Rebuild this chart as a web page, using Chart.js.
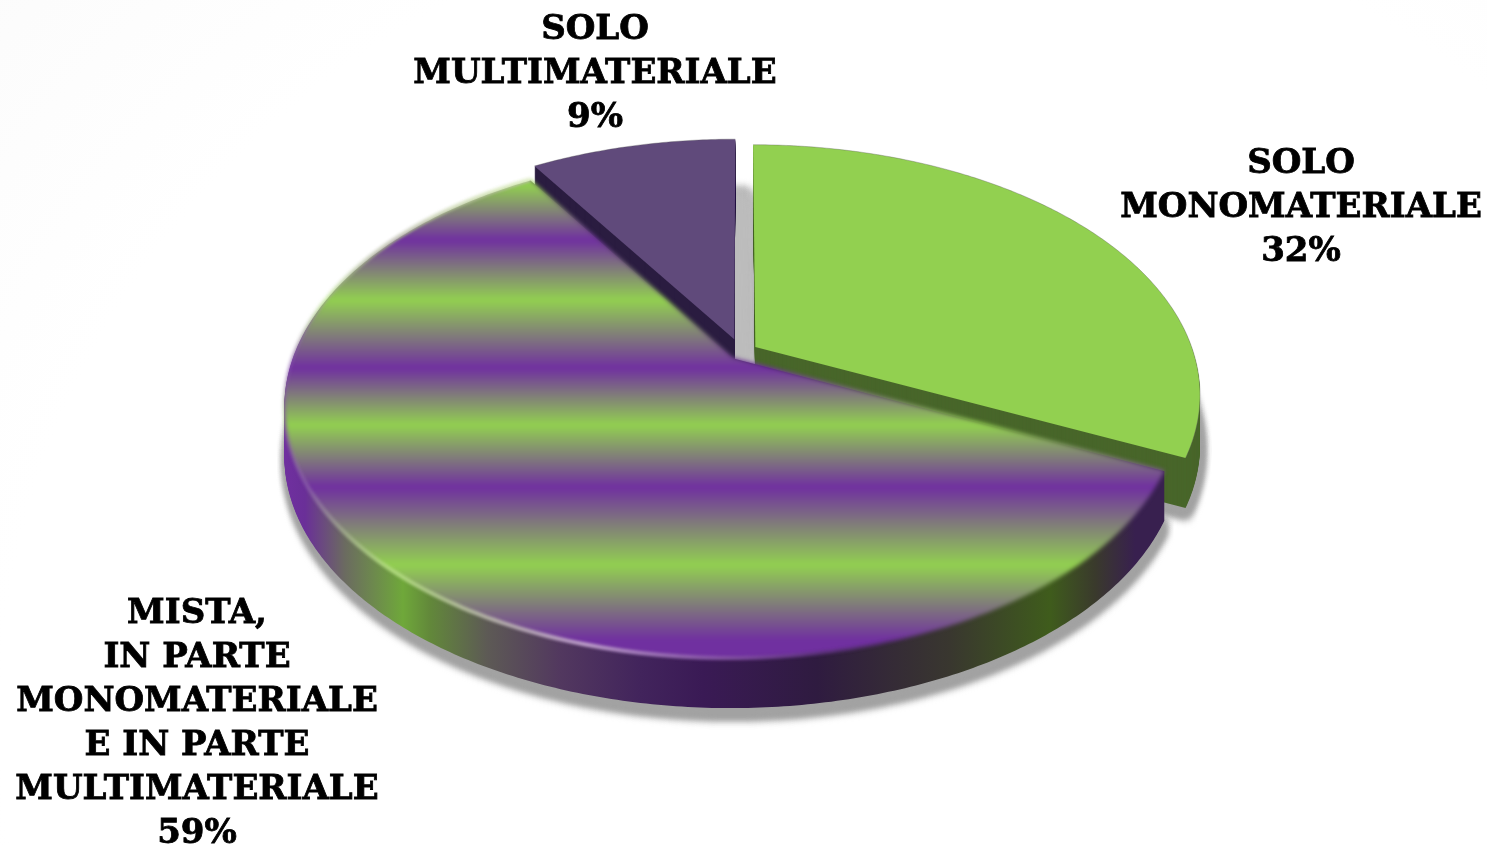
<!DOCTYPE html>
<html>
<head>
<meta charset="utf-8">
<title>Monomateriale / multimateriale</title>
<script src="https://cdn.jsdelivr.net/npm/chart.js@4.4.0/dist/chart.umd.js"></script>
<style>
    html, body { margin: 0; padding: 0; background: #fff; overflow: hidden; }
    #wrap {
        position: relative; width: 1487px; height: 845px;
        background: radial-gradient(ellipse 1250px 1150px at 900px 720px, #fff 72%, #fbfbfb 100%);
    }
    canvas { display: block; }
</style>
</head>
<body>
<div id="wrap"><canvas id="pie" width="1487" height="845"></canvas></div>
<script>
// Data
const categories = [
    ['SOLO', 'MONOMATERIALE'],
    ['MISTA,', 'IN PARTE', 'MONOMATERIALE', 'E IN PARTE', 'MULTIMATERIALE'],
    ['SOLO', 'MULTIMATERIALE']
];
const sliceValues = [32, 59, 9];

// Colours
const topColors = ['#92d050', null, '#604a7b'];
const wallColors = ['#48662a', null, '#2a1c40'];
const stripeGreen = '#92d050';
const stripePurple = '#7030a0';
const stripeRows = [185, 240, 300, 368, 425, 487, 565, 640];
const sideStops = [
    [283, '#7030a0'], [305, '#6a2f98'], [345, '#6b6b60'], [403, '#6fa83a'], [430, '#62883a'],
    [487, '#5d5a55'], [560, '#52385f'], [640, '#42245c'], [703, '#3a1a55'], [817, '#2f1b40'],
    [950, '#39372f'], [1050, '#3f5c1c'], [1095, '#3a3a2c'], [1135, '#38204f'], [1155, '#38204f']
];

// Where the tilted disc lands on the page
const CX = 741, CY = 352, AX = 438, BY = 242, TILT = 0.188, DEPTH = 50;
const labelAnchors = [[1301, 164], [197, 614], [595, 30]];
const drawOrder = [2, 0, 1];

function project(u, v) {
    const w = 1 - TILT * v;
    return [CX + AX * u / w, CY + BY * v / w];
}

function slicePath(ctx, el, dy) {
    const R = el.outerRadius;
    const mid = (el.startAngle + el.endAngle) / 2;
    const ox = Math.cos(mid) * el.options.offset / R;
    const oy = Math.sin(mid) * el.options.offset / R;
    ctx.beginPath();
    let p = project(ox, oy);
    ctx.moveTo(p[0], p[1] + dy);
    const steps = Math.ceil((el.endAngle - el.startAngle) * 90);
    for (let i = 0; i <= steps; i++) {
        const a = el.startAngle + (el.endAngle - el.startAngle) * i / steps;
        p = project(ox + Math.cos(a), oy + Math.sin(a));
        ctx.lineTo(p[0], p[1] + dy);
    }
    ctx.closePath();
}

function rimPath(ctx, el, from, to) {
    const R = el.outerRadius;
    const mid = (el.startAngle + el.endAngle) / 2;
    const ox = Math.cos(mid) * el.options.offset / R;
    const oy = Math.sin(mid) * el.options.offset / R;
    ctx.beginPath();
    for (let i = 0; i <= 200; i++) {
        const a = from + (to - from) * i / 200;
        const p = project(ox + Math.cos(a), oy + Math.sin(a));
        if (i === 0) ctx.moveTo(p[0], p[1]); else ctx.lineTo(p[0], p[1]);
    }
}

function stripes(ctx) {
    const first = stripeRows[0], last = 665;
    const g = ctx.createLinearGradient(0, first, 0, last);
    stripeRows.forEach((y, i) => {
        g.addColorStop((y - first) / (last - first), i % 2 ? stripePurple : stripeGreen);
    });
    g.addColorStop(1, stripePurple);
    return g;
}

function sideGradient(ctx) {
    const g = ctx.createLinearGradient(283, 0, 1155, 0);
    sideStops.forEach(s => g.addColorStop((s[0] - 283) / (1155 - 283), s[1]));
    return g;
}

// Draws the slices the library has laid out, tilted and extruded
const tiltedPie = {
    id: 'tiltedPie',
    beforeDatasetDraw(chart) {
        const ctx = chart.ctx;
        const arcs = chart.getDatasetMeta(0).data;
        ctx.save();

        // soft shadow on the page; the small slice throws its shadow into the gap
        ctx.filter = 'blur(4px)';
        arcs.forEach((el, i) => {
            ctx.fillStyle = i === 2 ? '#bcbcbc' : '#a2a2a2';
            for (let d = DEPTH - 2; d <= DEPTH + 12; d += 2) {
                ctx.save();
                ctx.translate(i === 2 ? 14 : 2, 0);
                slicePath(ctx, el, d);
                ctx.fill();
                ctx.restore();
            }
        });
        ctx.filter = 'none';

        drawOrder.forEach(i => {
            const el = arcs[i];
            ctx.fillStyle = wallColors[i] || sideGradient(ctx);
            for (let d = DEPTH; d > 0; d--) {
                slicePath(ctx, el, d);
                ctx.fill();
            }
            ctx.fillStyle = el.options.backgroundColor;
            if (i === 1) ctx.filter = 'blur(2px)';
            slicePath(ctx, el, 0);
            ctx.fill();
            ctx.filter = 'none';
            if (i !== 1) {
                ctx.strokeStyle = 'rgba(90,90,90,0.35)';
                ctx.lineWidth = 1;
                rimPath(ctx, el, el.startAngle, el.endAngle);
                ctx.stroke();
            }
        });

        // bevel highlight round the front of the big slice
        const big = arcs[1];
        const glow = ctx.createLinearGradient(283, 0, 1150, 0);
        glow.addColorStop(0, 'rgba(255,255,255,0.05)');
        glow.addColorStop(0.12, 'rgba(220,255,170,0.5)');
        glow.addColorStop(0.35, 'rgba(255,235,255,0.6)');
        glow.addColorStop(0.55, 'rgba(200,140,230,0.3)');
        glow.addColorStop(0.72, 'rgba(60,40,80,0.0)');
        glow.addColorStop(1, 'rgba(40,20,60,0.0)');
        ctx.filter = 'blur(1.5px)';
        ctx.strokeStyle = glow;
        ctx.lineWidth = 4;
        rimPath(ctx, big, big.startAngle, big.endAngle);
        ctx.stroke();
        ctx.filter = 'none';
        ctx.restore();
        return false;
    }
};

// Category name and percentage beside each slice
const sliceLabels = {
    id: 'sliceLabels',
    afterDraw(chart) {
        const ctx = chart.ctx;
        ctx.save();
        ctx.font = 'bold 34px "DejaVu Serif"';
        ctx.fillStyle = '#000';
        ctx.strokeStyle = '#000';
        ctx.lineWidth = 0.8;
        ctx.textAlign = 'center';
        ctx.textBaseline = 'middle';
        categories.forEach((lines, i) => {
            const rows = lines.concat(sliceValues[i] + '%');
            rows.forEach((row, r) => {
                ctx.fillText(row, labelAnchors[i][0], labelAnchors[i][1] + r * 44);
                ctx.strokeText(row, labelAnchors[i][0], labelAnchors[i][1] + r * 44);
            });
        });
        ctx.restore();
    }
};

new Chart(document.getElementById('pie'), {
    type: 'pie',
    data: {
        labels: categories.map(c => c.join(' ')),
        datasets: [{
            data: sliceValues,
            backgroundColor: c => topColors[c.dataIndex] || stripes(c.chart.ctx),
            borderWidth: 0,
            offset: [16, 12, 23]
        }]
    },
    options: {
        responsive: false,
        animation: false,
        layout: { padding: 0 },
        plugins: { legend: { display: false }, tooltip: { enabled: false } }
    },
    plugins: [tiltedPie, sliceLabels]
});
</script>
</body>
</html>
